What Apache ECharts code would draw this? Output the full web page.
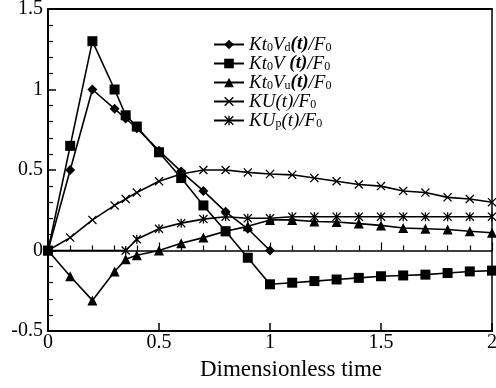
<!DOCTYPE html>
<html>
<head>
<meta charset="utf-8">
<script src="https://cdn.jsdelivr.net/npm/echarts@6/dist/echarts.min.js"></script>
<style>
html,body{margin:0;padding:0;background:#fff}
#chart{width:496px;height:388px}
</style>
</head>
<body>
<div id="chart"></div>
<script>
// time points
var timeFull = [0, 0.1, 0.2, 0.3, 0.35, 0.4, 0.5, 0.6, 0.7, 0.8, 0.9, 1.0, 1.1, 1.2, 1.3, 1.4, 1.5, 1.6, 1.7, 1.8, 1.9, 2.0];
var timeVd = [0, 0.1, 0.2, 0.3, 0.35, 0.4, 0.5, 0.6, 0.7, 0.8, 0.9, 1.0];
var timeUp = [0, 0.35, 0.4, 0.5, 0.6, 0.7, 0.8, 0.9, 1.0, 1.1, 1.2, 1.3, 1.4, 1.5, 1.6, 1.7, 1.8, 1.9, 2.0];
// series values
var valVd = [0, 0.5, 1.0, 0.88, 0.82, 0.76, 0.62, 0.49, 0.37, 0.24, 0.135, 0];
var valV = [0, 0.65, 1.30, 1.0, 0.84, 0.77, 0.61, 0.45, 0.28, 0.12, -0.045, -0.21, -0.20, -0.19, -0.18, -0.17, -0.16, -0.155, -0.15, -0.14, -0.13, -0.125];
var valVu = [0, -0.16, -0.31, -0.13, -0.055, -0.03, 0, 0.045, 0.08, 0.12, 0.15, 0.19, 0.19, 0.18, 0.177, 0.167, 0.156, 0.14, 0.135, 0.13, 0.12, 0.11];
var valU = [0, 0.08, 0.19, 0.28, 0.32, 0.36, 0.43, 0.475, 0.5, 0.5, 0.485, 0.475, 0.47, 0.45, 0.43, 0.41, 0.40, 0.37, 0.36, 0.33, 0.32, 0.30];
var valUp = [0, 0, 0.07, 0.135, 0.17, 0.195, 0.21, 0.2, 0.2, 0.21, 0.21, 0.21, 0.21, 0.21, 0.21, 0.21, 0.21, 0.21, 0.21];
// names
var names = ['Kt0Vd(t)/F0', 'Kt0V(t)/F0', 'Kt0Vu(t)/F0', 'KU(t)/F0', 'KUp(t)/F0'];
var richNames = {
	'Kt0Vd(t)/F0': '{i|Kt}{s|0}{i|V}{s|d}{b|(t)}{i|/F}{s|0}',
	'Kt0V(t)/F0': '{i|Kt}{s|0}{i|V }{b|(t)}{i|/F}{s|0}',
	'Kt0Vu(t)/F0': '{i|Kt}{s|0}{i|V}{s|u}{b|(t)}{i|/F}{s|0}',
	'KU(t)/F0': '{i|KU(t)/F}{s|0}',
	'KUp(t)/F0': '{i|KU}{s|p}{i|(t)/F}{s|0}'
};

var xMark = 'path://M1,0L5,4L9,0L10,1L6,5L10,9L9,10L5,6L1,10L0,9L4,5L0,1Z';
var starMark = 'path://M1,0L5,4L9,0L10,1L6,5L10,9L9,10L5,6L1,10L0,9L4,5L0,1Z M4.3,0L5.7,0L5.7,10L4.3,10Z';

function zip(t, v) {
	var arr = [];
	for (var i = 0; i < t.length; i++) {
		arr.push([t[i], v[i]]);
	}
	return arr;
}

var serif = 'Liberation Serif';

function mkSeries(name, data, symbol, size) {
	return {
		name: name,
		type: 'line',
		data: data,
		symbol: symbol,
		symbolSize: size,
		showAllSymbol: true,
		color: '#000',
		itemStyle: {color: '#000'},
		lineStyle: {color: '#000', width: 1.6},
		animation: false
	};
}

var chart = echarts.init(document.getElementById('chart'));
var option = {
	backgroundColor: '#fff',
	grid: {left: 48, right: 4, top: 9, bottom: 57, outerBoundsMode: 'none'},
	legend: {
		orient: 'vertical',
		left: 208,
		top: 30,
		itemWidth: 30,
		itemHeight: 12,
		itemGap: 0,
		data: names,
		formatter: function (n) { return richNames[n]; },
		textStyle: {
			color: '#000',
			rich: {
				i: {fontFamily: serif, fontStyle: 'italic', fontSize: 19, lineHeight: 18, color: '#000'},
				b: {fontFamily: serif, fontStyle: 'italic', fontWeight: 'bold', fontSize: 19, lineHeight: 18, color: '#000'},
				s: {fontFamily: serif, fontSize: 12, lineHeight: 10, verticalAlign: 'bottom', color: '#000'}
			}
		}
	},
	xAxis: [
		{
			type: 'value', min: 0, max: 2, interval: 0.5, position: 'bottom',
			axisLine: {onZero: false, lineStyle: {color: '#000', width: 2}},
			axisTick: {inside: true, length: 8, lineStyle: {color: '#000', width: 1.5}},
			axisLabel: {color: '#000', fontFamily: serif, fontSize: 20, margin: 2},
			splitLine: {show: false},
			name: 'Dimensionless time',
			nameLocation: 'middle',
			nameGap: 27,
			nameTextStyle: {color: '#000', fontFamily: serif, fontSize: 23, padding: [0, 0, 0, 42]}
		},
		{
			type: 'value', min: 0, max: 2, interval: 0.5, position: 'top',
			axisLine: {onZero: false, lineStyle: {color: '#000', width: 2}},
			axisTick: {show: false},
			axisLabel: {show: false},
			splitLine: {show: false}
		},
		{
			type: 'value', min: 0, max: 2, interval: 0.5, position: 'bottom',
			axisLine: {onZero: true, onZeroAxisIndex: 0, lineStyle: {color: '#000', width: 1.5}},
			axisTick: {inside: true, length: 8, lineStyle: {color: '#000', width: 1.2}},
			minorTick: {show: true, splitNumber: 5, length: 5, lineStyle: {color: '#000', width: 1.2}},
			axisLabel: {show: false},
			splitLine: {show: false}
		}
	],
	yAxis: [
		{
			type: 'value', min: -0.5, max: 1.5, interval: 0.5, position: 'left',
			axisLine: {onZero: false, lineStyle: {color: '#000', width: 2}},
			axisTick: {inside: true, length: 8, lineStyle: {color: '#000', width: 1.5}},
			minorTick: {show: true, splitNumber: 5, length: 5, lineStyle: {color: '#000', width: 1.2}},
			axisLabel: {color: '#000', fontFamily: serif, fontSize: 20, margin: 5},
			splitLine: {show: false}
		},
		{
			type: 'value', min: -0.5, max: 1.5, interval: 0.5, position: 'right',
			axisLine: {onZero: false, lineStyle: {color: '#000', width: 1.5}},
			axisTick: {show: false},
			axisLabel: {show: false},
			splitLine: {show: false}
		}
	],
	series: [
		mkSeries(names[0], zip(timeVd, valVd), 'diamond', 10),
		mkSeries(names[1], zip(timeFull, valV), 'rect', 10),
		mkSeries(names[2], zip(timeFull, valVu), 'triangle', 10),
		mkSeries(names[3], zip(timeFull, valU), xMark, 9),
		mkSeries(names[4], zip(timeUp, valUp), starMark, 9)
	]
};
chart.setOption(option);
</script>
</body>
</html>
